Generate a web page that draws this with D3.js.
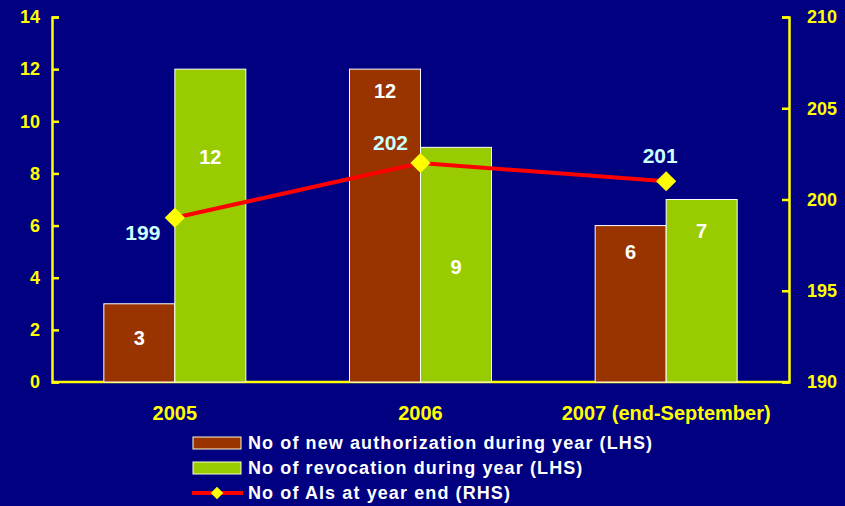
<!DOCTYPE html>
<html>
<head>
<meta charset="utf-8">
<script src="https://cdn.jsdelivr.net/npm/d3@7"></script>
<style>
  html, body { margin: 0; padding: 0; background: #000080; }
  svg { display: block; font-family: "Liberation Sans", Arial, sans-serif; font-weight: bold; }
</style>
</head>
<body>
<div id="chart"></div>
<script>
// Data
var categories = ["2005", "2006", "2007 (end-September)"];
var newAuth = [3, 12, 6];          // LHS
var revocation = [12, 9, 7];       // LHS
var aisYearEnd = [199, 202, 201];  // RHS
var leftTicks = [0, 2, 4, 6, 8, 10, 12, 14];
var rightTicks = [190, 195, 200, 205, 210];
var legendLabels = [
    "No of new authorization during year (LHS)",
    "No of revocation during year (LHS)",
    "No of AIs at year end (RHS)"
];

// Where the value labels sit inside each bar (as a share of bar height, from the bottom)
var authLabelAt = [0.56, 0.93, 0.83];
var revLabelAt = [0.72, 0.49, 0.83];

var W = 845, H = 506;
var margin = {top: 17, right: 56, bottom: 124, left: 52},
    width = W - margin.left - margin.right,
    height = H - margin.top - margin.bottom;

var colBrown = "#993300", colGreen = "#99cc00", colYellow = "#ffff00",
    colRed = "#ff0000", colCyan = "#ccffff";

var svg = d3.select("#chart").append("svg")
    .attr("width", W)
    .attr("height", H);

svg.append("rect").attr("width", W).attr("height", H).attr("fill", "#000080");

var g = svg.append("g")
    .attr("transform", "translate(" + margin.left + "," + margin.top + ")");

var x = d3.scaleBand().domain(categories).range([0, width]);
var barW = 71;

var yL = d3.scaleLinear().domain([0, 14]).range([height, 0]);
var yR = d3.scaleLinear().domain([190, 210]).range([height, 0]);

//Left axis
var leftAxis = g.append("g")
    .call(d3.axisLeft(yL).tickValues(leftTicks).tickSize(-7).tickPadding(12).tickSizeOuter(-7));
//Right axis
var rightAxis = g.append("g")
    .attr("transform", "translate(" + width + ",0)")
    .call(d3.axisRight(yR).tickValues(rightTicks).tickSize(-7).tickPadding(18).tickSizeOuter(-7));

[leftAxis, rightAxis].forEach(function(a) {
    a.attr("font-family", null).attr("font-size", null);
    a.selectAll("path, line").attr("stroke", colYellow).attr("stroke-width", 2.5);
    a.selectAll("text").attr("fill", colYellow).style("font-size", "18px").style("font-weight", "bold");
});
rightAxis.selectAll("text").attr("text-anchor", "start");

//Bottom baseline
g.append("line")
    .attr("x1", 0).attr("x2", width)
    .attr("y1", yL(0)).attr("y2", yL(0))
    .attr("stroke", colYellow).attr("stroke-width", 2.5);

//Bars
var cx = function(d, i) { return x(categories[i]) + x.bandwidth() / 2; };

g.selectAll(".auth").data(newAuth).enter().append("rect")
    .attr("x", function(d, i) { return cx(d, i) - barW; })
    .attr("y", function(d) { return yL(d); })
    .attr("width", barW)
    .attr("height", function(d) { return yL(0) - yL(d); })
    .attr("fill", colBrown).attr("stroke", "#ffffff").attr("stroke-width", 1);

g.selectAll(".rev").data(revocation).enter().append("rect")
    .attr("x", function(d, i) { return cx(d, i); })
    .attr("y", function(d) { return yL(d); })
    .attr("width", barW)
    .attr("height", function(d) { return yL(0) - yL(d); })
    .attr("fill", colGreen).attr("stroke", "#ffffff").attr("stroke-width", 1);

//Bar labels
g.selectAll(".authLbl").data(newAuth).enter().append("text")
    .attr("x", function(d, i) { return cx(d, i) - barW / 2; })
    .attr("y", function(d, i) { return yL(d * authLabelAt[i]); })
    .attr("dy", "0.35em")
    .attr("text-anchor", "middle").attr("fill", "#ffffff").style("font-size", "20px")
    .text(function(d) { return d; });

g.selectAll(".revLbl").data(revocation).enter().append("text")
    .attr("x", function(d, i) { return cx(d, i) + barW / 2; })
    .attr("y", function(d, i) { return yL(d * revLabelAt[i]); })
    .attr("dy", "0.35em")
    .attr("text-anchor", "middle").attr("fill", "#ffffff").style("font-size", "20px")
    .text(function(d) { return d; });

//Line (RHS)
var line = d3.line()
    .x(function(d, i) { return cx(d, i); })
    .y(function(d) { return yR(d); });

g.append("path").datum(aisYearEnd)
    .attr("d", line).attr("fill", "none")
    .attr("stroke", colRed).attr("stroke-width", 4);

var diamond = d3.symbol().type(d3.symbolDiamond2).size(260);
g.selectAll(".pt").data(aisYearEnd).enter().append("path")
    .attr("d", diamond)
    .attr("transform", function(d, i) { return "translate(" + cx(d, i) + "," + yR(d) + ")"; })
    .attr("fill", colYellow);

//Line labels: 199 below-left, others above-left
var lblDx = [-32, -30, -6], lblDy = [15, -20, -26];
g.selectAll(".ptLbl").data(aisYearEnd).enter().append("text")
    .attr("x", function(d, i) { return cx(d, i) + lblDx[i]; })
    .attr("y", function(d, i) { return yR(d) + lblDy[i]; })
    .attr("dy", "0.35em")
    .attr("text-anchor", "middle").attr("fill", colCyan).style("font-size", "21px")
    .text(function(d) { return d; });

//Category labels
g.selectAll(".cat").data(categories).enter().append("text")
    .attr("x", function(d) { return x(d) + x.bandwidth() / 2; })
    .attr("y", height + 31)
    .attr("dy", "0.35em")
    .attr("text-anchor", "middle").attr("fill", colYellow).style("font-size", "20px")
    .text(function(d) { return d; });

//Legend
var legend = svg.selectAll(".legend").data(legendLabels).enter().append("g")
    .attr("transform", function(d, i) { return "translate(193," + (443 + i * 25) + ")"; });

legend.filter(function(d, i) { return i < 2; }).append("rect")
    .attr("x", 0).attr("y", -6).attr("width", 48).attr("height", 12)
    .attr("fill", function(d, i) { return i === 0 ? colBrown : colGreen; })
    .attr("stroke", "#ffffcc").attr("stroke-width", 1);

var lineLeg = legend.filter(function(d, i) { return i === 2; });
lineLeg.append("line").attr("x1", -1).attr("x2", 50).attr("y1", 0).attr("y2", 0)
    .attr("stroke", colRed).attr("stroke-width", 4);
lineLeg.append("path").attr("d", d3.symbol().type(d3.symbolDiamond2).size(100))
    .attr("transform", "translate(24,0)").attr("fill", colYellow);

legend.append("text")
    .attr("x", 55).attr("dy", "0.35em")
    .attr("fill", "#ffffff").style("font-size", "18px").style("letter-spacing", "1.1px")
    .text(function(d) { return d; });
</script>
</body>
</html>
